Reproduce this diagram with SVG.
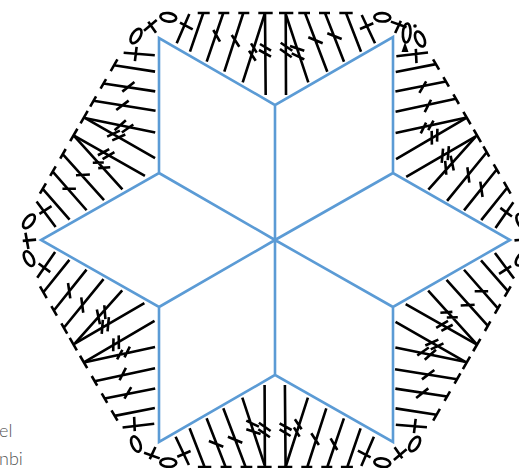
<svg xmlns="http://www.w3.org/2000/svg" width="519" height="468" viewBox="0 0 519 468">
<style>
.k{fill:none;stroke:#000;stroke-width:2.6}
.b{fill:none;stroke:#5b9bd5;stroke-width:2.6;stroke-linejoin:miter}
.t{font-family:"Lato","Open Sans",sans-serif;font-weight:300;font-size:18px;fill:#555}
</style>
<defs>
<g id="sector" class="k">
<path d="M176.7 43.3L189.3 14M180 22.7L192.7 29.3"/>
<path d="M190 51.7L203.3 13M197.7 13H209.7"/>
<path d="M206.7 61.7L223.3 13M218.3 13H229.3M213.3 30L220 41.7"/>
<path d="M224.3 71.7L243.3 13M238.3 13H249.3M231.7 35L239.3 46.7"/>
<path d="M242.7 82.3L265 13M258.3 13H272.7M249 50.7L255.7 60.7M251 43.3L256.7 52.7"/>
<path d="M265.7 95L265 13M259 50L271 56.7M260 44L271 50.7"/>
<path d="M286 95L285.7 13M279 13H293.3M280 49L291.7 57.3M280.7 42.7L292.3 50.7"/>
<path d="M308.3 82.3L286 15M291.7 53.3L304.3 59.3M290 46L304.3 50.7"/>
<path d="M327.3 71.7L305 13M298.3 13H310M308.3 37.3L322.7 43.3"/>
<path d="M344 61.7L325 13M319 13H330M327.3 33.3L341.7 39"/>
<path d="M361 51.7L346 13M339.3 13H352.7"/>
<path d="M375 43.3L361.7 15M360 29L373.3 23.3"/>
<path d="M144 30.7L156.7 20M148.3 21.7L156 32.7"/>
<ellipse cx="136" cy="36" rx="8" ry="4.2" transform="rotate(-58 136 36)"/>
</g>
<ellipse id="oval" class="k" cx="168.3" cy="17.3" rx="8" ry="4.2" transform="rotate(8 168.3 17.3)"/>
</defs>
<g id="stitches">
<use href="#sector"/>
<use href="#sector" transform="rotate(60 275.3 240)"/>
<use href="#sector" transform="rotate(120 275.3 240)"/>
<use href="#sector" transform="rotate(180 275.3 240)"/>
<use href="#sector" transform="rotate(240 275.3 240)"/>
<use href="#sector" transform="rotate(300 275.3 240)"/>
<use href="#oval"/>
<use href="#oval" transform="rotate(120 275.3 240)"/>
<use href="#oval" transform="rotate(180 275.3 240)"/>
<use href="#oval" transform="rotate(240 275.3 240)"/>
<use href="#oval" transform="rotate(300 275.3 240)"/>
<ellipse class="k" cx="420" cy="39" rx="8" ry="4.2" transform="rotate(65 420 39)"/>
<ellipse class="k" cx="406.7" cy="33" rx="3.8" ry="9.5" transform="rotate(4 406.7 33)"/>
<circle cx="415" cy="26" r="1.8"/>
<path d="M405 42L408.5 52H401.5Z"/>
</g>
<g id="star" class="b">
<path d="M275 240L275 105L393 37L393 173ZM275 240L393 173L510 240L393 307ZM275 240L393 307L393 442L275 375ZM275 240L275 375L159 442L159 307ZM275 240L159 307L41 240L159 173ZM275 240L159 173L159 38L275 105Z"/>
</g>
<text class="t" x="-1" y="437">el</text>
<text class="t" x="-1" y="465">nbi</text>
</svg>
